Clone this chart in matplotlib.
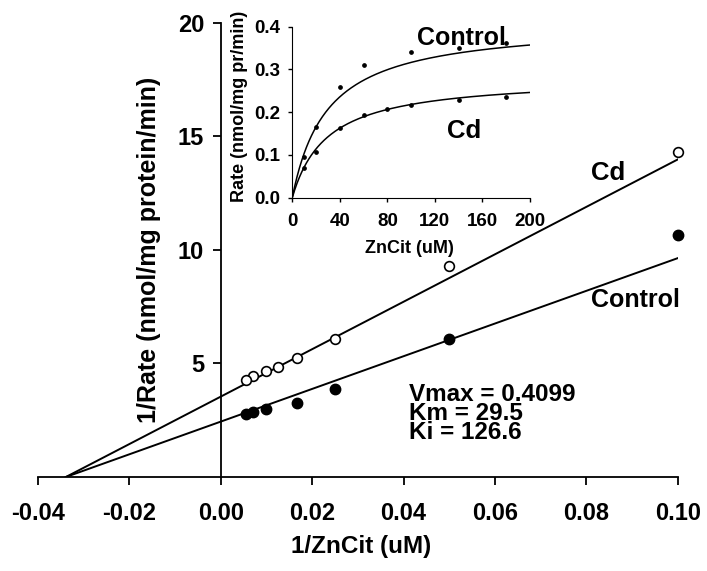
import numpy as np
import matplotlib
matplotlib.use('Agg')
import matplotlib.pyplot as plt

plt.rcParams['font.family'] = ['Liberation Sans', 'DejaVu Sans']
plt.rcParams['font.weight'] = 'bold'

# substrate concentrations (uM)
zn_control = [10, 20, 40, 60, 100, 140, 180]
zn_cd = [10, 20, 40, 60, 80, 100, 140, 180]

# 1/rate
inv_rate_control = [10.66, 6.09, 3.88, 3.25, 2.98, 2.86, 2.76]
inv_rate_cd = [14.3, 9.3, 6.08, 5.23, 4.86, 4.67, 4.45, 4.27]

# rates in the inset
rate_control = [0.095, 0.165, 0.26, 0.31, 0.34, 0.35, 0.363]
rate_cd = [0.069, 0.107, 0.163, 0.193, 0.207, 0.217, 0.228, 0.235]

# fit parameters
vmax = 0.4099
km = 29.5
ki = 126.6
vmax_cd = 0.2825

fig = plt.figure(figsize=(7.07, 5.71), dpi=100)
ax = fig.add_axes([0.0537, 0.1646, 0.905, 0.7956])

# double reciprocal fit lines, from -1/Km to 0.10
xl = np.array([-1.0 / km, 0.10])
ax.plot(xl, (km / vmax) * xl + 1.0 / vmax, color='black', lw=1.4, zorder=2)
ax.plot(xl, (km / vmax_cd) * xl + 1.0 / vmax_cd, color='black', lw=1.4, zorder=2)

ax.plot(1.0 / np.array(zn_control), inv_rate_control, 'o', ms=7.5,
        mfc='black', mec='black', zorder=3, clip_on=False)
ax.plot(1.0 / np.array(zn_cd), inv_rate_cd, 'o', ms=7, mfc='white',
        mec='black', mew=1.2, zorder=3, clip_on=False)

ax.set_xlim(-0.04, 0.10)
ax.set_ylim(0, 20)
ax.spines['left'].set_position(('data', 0))
ax.spines['top'].set_visible(False)
ax.spines['right'].set_visible(False)
for s in ['left', 'bottom']:
    ax.spines[s].set_linewidth(1.3)
ax.set_xticks([-0.04, -0.02, 0.00, 0.02, 0.04, 0.06, 0.08, 0.10])
ax.set_xticklabels(['-0.04', '-0.02', '0.00', '0.02', '0.04', '0.06', '0.08', '0.10'])
ax.set_yticks([5, 10, 15, 20])
ax.tick_params(direction='out', length=6, width=1.3, labelsize=17)
ax.tick_params(axis='x', pad=12)
ax.tick_params(axis='y', pad=6)
for lab in ax.get_xticklabels() + ax.get_yticklabels():
    lab.set_fontweight('bold')

ax.set_xlabel('1/ZnCit (uM)', fontsize=17.5, fontweight='bold', va='center')
ax.xaxis.set_label_coords(0.505, -0.154)
ax.set_ylabel('1/Rate (nmol/mg protein/min)', fontsize=18, fontweight='bold', va='center')
ax.yaxis.set_label_coords(0.173, 0.5)

ax.text(0.0848, 13.4, 'Cd', fontsize=18.5, fontweight='bold', ha='center', va='center')
ax.text(0.0908, 7.8, 'Control', fontsize=18, fontweight='bold', ha='center', va='center')
fit_txt = 'Vmax = %.4f\nKm = %.1f\nKi = %.1f' % (vmax, km, ki)
ax.text(0.0411, 2.78, fit_txt, fontsize=17.5, fontweight='bold', ha='left', va='center',
        linespacing=0.78)

# inset: Michaelis-Menten plot
ins = fig.add_axes([0.4134, 0.6538, 0.3362, 0.2994])
s = np.linspace(0, 200, 300)
ins.plot(s, vmax * s / (km + s), color='black', lw=1.1)
ins.plot(s, vmax_cd * s / (km + s), color='black', lw=1.1)
ins.plot(zn_control, rate_control, 'o', ms=2.4, color='black')
ins.plot(zn_cd, rate_cd, 'o', ms=2.4, color='black')
ins.set_xlim(0, 200)
ins.set_ylim(0, 0.4)
ins.spines['top'].set_visible(False)
ins.spines['right'].set_visible(False)
ins.set_xticks([0, 40, 80, 120, 160, 200])
ins.set_yticks([0.0, 0.1, 0.2, 0.3, 0.4])
ins.set_yticklabels(['0.0', '0.1', '0.2', '0.3', '0.4'])
ins.tick_params(direction='out', length=3, width=1, labelsize=13.5)
ins.tick_params(axis='x', pad=8)
ins.tick_params(axis='y', pad=6)
for lab in ins.get_xticklabels() + ins.get_yticklabels():
    lab.set_fontweight('bold')
ins.set_xlabel('ZnCit (uM)', fontsize=13, fontweight='bold', va='center')
ins.xaxis.set_label_coords(0.495, -0.30)
ins.set_ylabel('Rate (nmol/mg pr/min)', fontsize=13, fontweight='bold', va='center')
ins.yaxis.set_label_coords(-0.224, 0.536)
ins.text(142.6, 0.374, 'Control', fontsize=18, fontweight='bold', ha='center', va='center')
ins.text(145, 0.157, 'Cd', fontsize=18.5, fontweight='bold', ha='center', va='center')

fig.savefig('out.png', dpi=100)
